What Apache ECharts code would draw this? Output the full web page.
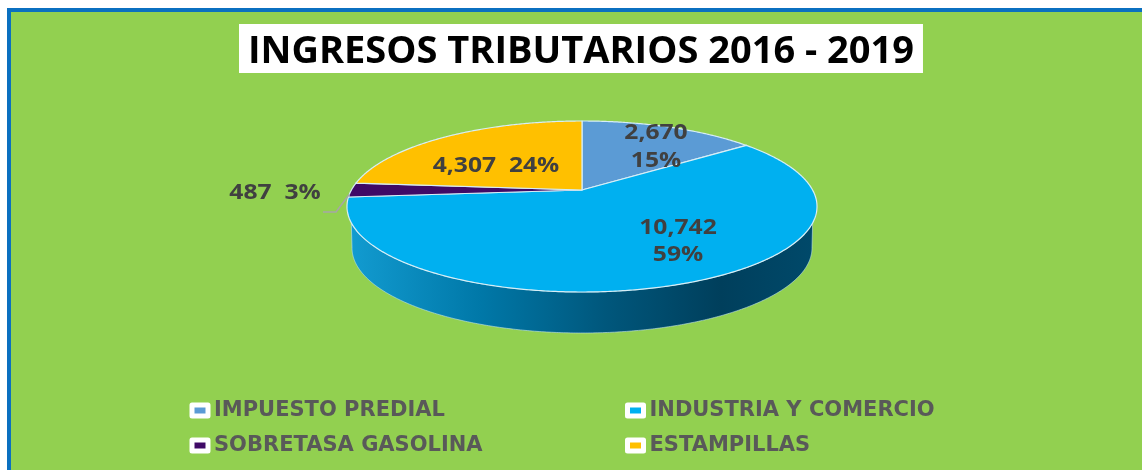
<!DOCTYPE html>
<html><head><meta charset="utf-8">
<style>html,body{margin:0;padding:0;background:#fff}#c{width:1142px;height:470px;filter:blur(0.5px)}</style>
<script src="https://cdn.jsdelivr.net/npm/echarts@6/dist/echarts.min.js"></script>
</head><body><div id="c"></div>
<script>
const categories = ['IMPUESTO PREDIAL','INDUSTRIA Y COMERCIO','SOBRETASA GASOLINA','ESTAMPILLAS'];
const values = [2670,10742,487,4307];
const percents = [15,59,3,24];
const titleText = 'INGRESOS TRIBUTARIOS 2016 - 2019';

const colors = ['#5b9bd5','#00b0f0','#3f0a66','#ffc000'];
const FONT = '"Open Sans", sans-serif';
const total = values.reduce((a,b)=>a+b,0);
const starts = values.map((_,i)=>values.slice(0,i).reduce((a,b)=>a+b,0)/total*360);

// Pie geometry: a tilted disc seen in perspective (the hub sits above the ellipse centre)
const E = {cx:582, cy:206.5, rx:235, ry:85.5, k:0.193, low:{cy:248, rx:230, ry:85}, wallFrom:0.19};
function unit(deg, r){
  const a = deg*Math.PI/180, x = r*Math.sin(a), y = -r*Math.cos(a);
  const d = 1 - E.k*y;
  return [x*Math.sqrt(1-E.k*E.k)/d, (y-E.k)/d];
}
const upperPt = u => [E.cx+u[0]*E.rx, E.cy+u[1]*E.ry];
const lowerPt = u => [E.cx+u[0]*E.low.rx, E.low.cy+u[1]*E.low.ry];

const labelXY = [[656,146.5],[678,241],[275,193],[496,165.5]];

function renderSlice(i){
  return function(){
    const a0 = starts[i], a1 = a0 + values[i]/total*360;
    const arc = [];
    for(let a=a0;a<=a1;a+=0.5) arc.push(unit(a,1));
    arc.push(unit(a1,1));
    const children = [];
    const front = arc.filter(u=>u[1]>=E.wallFrom);
    const bottom = arc.filter(u=>u[1]>=0);
    if(front.length>1){
      const pts = front.map(upperPt).concat(bottom.slice().reverse().map(lowerPt));
      children.push({type:'polygon',shape:{points:pts},z2:1,style:{
        fill:new echarts.graphic.LinearGradient(0,0,1,0,[
          {offset:0,color:'#129bd0'},{offset:.28,color:'#0078a8'},
          {offset:.55,color:'#00577c'},{offset:.8,color:'#003f5c'},{offset:1,color:'#00496a'}]),
        stroke:'#bfe3ef',lineWidth:.6}});
    }
    const pts = [upperPt(unit(0,0))].concat(arc.map(upperPt));
    children.push({type:'polygon',shape:{points:pts},z2:2,
      style:{fill:colors[i],stroke:'#d6eef7',lineWidth:1.2,lineJoin:'round'}});
    const val = values[i].toLocaleString('en-US'), pct = percents[i]+'%';
    const oneLine = i>=2;
    children.push({type:'text',z2:10,x:labelXY[i][0],y:labelXY[i][1],scaleX:1.12,style:{
      text: oneLine ? val+'  '+pct : val+'\n'+pct,
      fill:'#404040',font:'bold 22px '+FONT,lineHeight:27.5,align:'center',verticalAlign:'middle'}});
    if(i===2){
      const m = upperPt(unit((a0+a1)/2-3,1));
      children.push({type:'polyline',z2:3,shape:{points:[[323,212],[336,212],m]},
        style:{fill:'none',stroke:'#a6a6a6',lineWidth:1.5}});
    }
    return {type:'group',children};
  };
}

const legendOf = (i,left,topY)=>({
  left,top:topY,padding:0,itemWidth:16,itemHeight:11,icon:'rect',
  textStyle:{color:'#595959',fontWeight:'bold',fontSize:21,fontFamily:'"DejaVu Sans", sans-serif',padding:[0,0,3,1]},
  itemStyle:{borderColor:'#fff',borderWidth:5,borderJoin:'round'},
  data:[categories[i]]
});

const chart = echarts.init(document.getElementById('c'),null,{renderer:'canvas'});
chart.setOption({
  animation:false,
  backgroundColor:'#fff',
  graphic:[{type:'rect',z:-1,shape:{x:9,y:10,width:1140,height:470},
    style:{fill:'#92d050',stroke:'#0b70c0',lineWidth:4}}],
  title:{text:titleText,left:239,top:24,padding:[7,9,0,9],backgroundColor:'#fff',
    textStyle:{color:'#000',fontWeight:'bold',fontSize:38,fontFamily:FONT,lineHeight:42}},
  legend:[legendOf(0,189.5,400),legendOf(1,625,400),legendOf(2,189.5,435),legendOf(3,625,435)],
  series:categories.map((name,i)=>({
    type:'custom',name,coordinateSystem:'none',silent:true,
    itemStyle:{color:colors[i]},
    data:[values[i]],
    renderItem:renderSlice(i)
  }))
});
</script></body></html>
